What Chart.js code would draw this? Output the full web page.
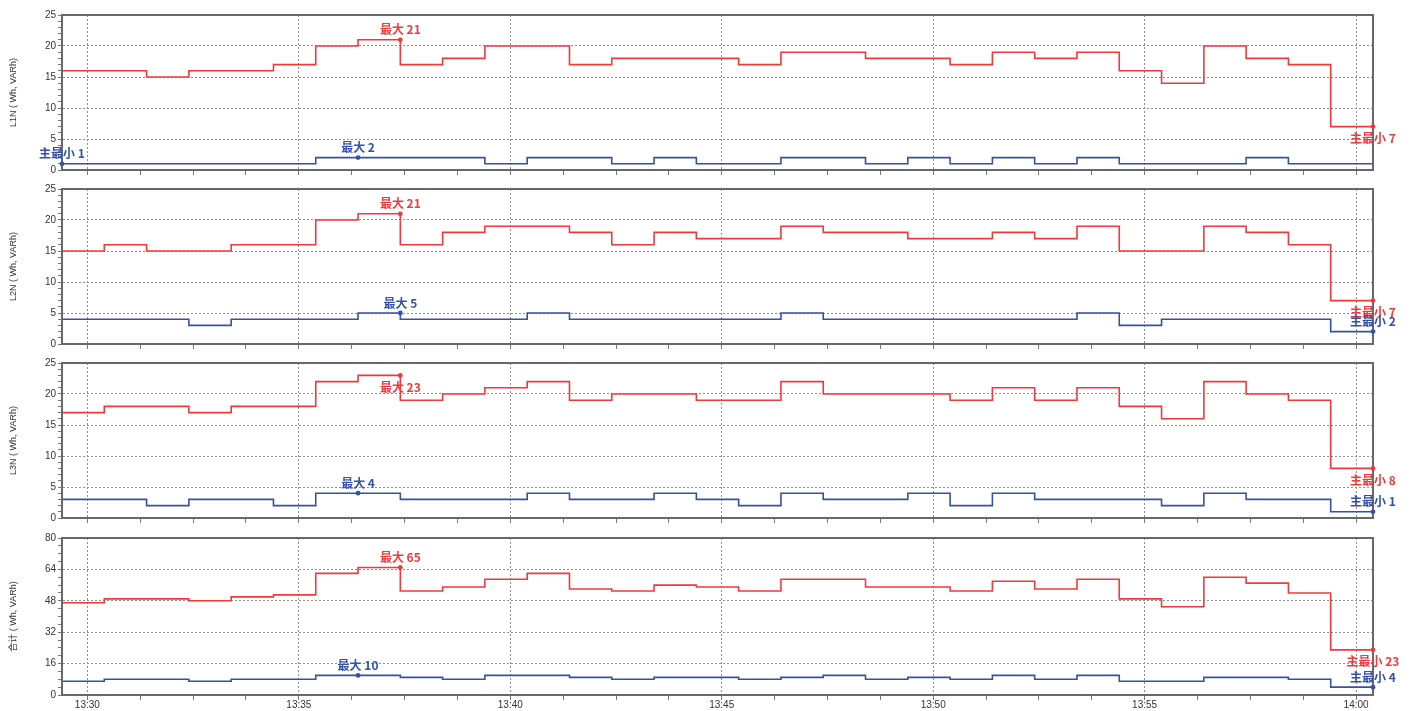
<!DOCTYPE html>
<html>
<head>
<meta charset="utf-8">
<script src="https://cdn.jsdelivr.net/npm/chart.js@4.4.1/dist/chart.umd.min.js"></script>
<style>
html,body{margin:0;padding:0;background:#fff;}
body{width:1417px;height:711px;position:relative;overflow:hidden;}
canvas{position:absolute;left:0;}
</style>
</head>
<body>
<canvas id="c1"></canvas>
<canvas id="c2"></canvas>
<canvas id="c3"></canvas>
<canvas id="c4"></canvas>
<script>
// ---- data ----
const times = ['13:29:24','13:30:24','13:31:24','13:32:24','13:33:24','13:34:24','13:35:24','13:36:24',
  '13:37:24','13:38:24','13:39:24','13:40:24','13:41:24','13:42:24','13:43:24','13:44:24',
  '13:45:24','13:46:24','13:47:24','13:48:24','13:49:24','13:50:24','13:51:24','13:52:24',
  '13:53:24','13:54:24','13:55:24','13:56:24','13:57:24','13:58:24','13:59:24','14:00:24'];

const l1Max = [14, 16,16,15,16,16,17,20,21,17,18, 20,20,17,18,18,18,17,19,19,18, 18,17,19,18,19,16,14,20,18,17, 7];
const l1Min = [1, 1,1,1,1,1,1,2,2,2,2, 1,2,2,1,2,1,1,2,2,1, 2,1,2,1,2,1,1,1,2,1, 1];

const l2Max = [14, 15,16,15,15,16,16,20,21,16,18, 19,19,18,16,18,17,17,19,18,18, 17,17,18,17,19,15,15,19,18,16, 7];
const l2Min = [3, 4,4,4,3,4,4,4,5,4,4, 4,5,4,4,4,4,4,5,4,4, 4,4,4,4,5,3,4,4,4,4, 2];

const l3Max = [17, 17,18,18,17,18,18,22,23,19,20, 21,22,19,20,20,19,19,22,20,20, 20,19,21,19,21,18,16,22,20,19, 8];
const l3Min = [2, 3,3,2,3,3,2,4,4,3,3, 3,4,3,3,4,3,2,4,3,3, 4,2,4,3,3,3,2,4,3,3, 1];

const totMax = [45, 47,49,49,48,50,51,62,65,53,55, 59,62,54,53,56,55,53,59,59,55, 55,53,58,54,59,49,45,60,57,52, 23];
const totMin = [7, 7,8,8,7,8,8,10,10,9,8, 10,10,9,8,9,9,8,9,10,8, 9,8,10,8,10,7,7,9,9,8, 4];

const xTickLabels = ['13:30','13:35','13:40','13:45','13:50','13:55','14:00'];
const yTicksPhase = [0,5,10,15,20,25];
const yTicksTotal = [0,16,32,48,64,80];
const axisTitles = ['L1N ( Wh, VARh)','L2N ( Wh, VARh)','L3N ( Wh, VARh)','合计 ( Wh, VARh)'];
const maxPrefix = '最大 ';
const minPrefix = '主最小 ';

// ---- helpers ----
function toMin(s){ const p = s.split(':').map(Number); return p[0]*60 + p[1] + (p[2]||0)/60; }
function fmt(v){ const h = Math.floor(v/60), m = Math.round(v - h*60); return h + ':' + String(m).padStart(2,'0'); }
const tVals = times.map(toMin);
const xMajor = xTickLabels.map(toMin);
const xAll = [];
for (let i=0;i<xMajor.length;i++){
  xAll.push({value:xMajor[i]});
  if (i<xMajor.length-1){
    const step = (xMajor[i+1]-xMajor[i])/4;
    for (let k=1;k<4;k++) xAll.push({value:xMajor[i]+k*step});
  }
}
function isMajorVal(list, v){ return list.some(m => Math.abs(m-v) < 1e-6); }

const RED = '#ef3a3c';
const BLUE = '#3451a8';
const GRID = '#8f8f8f';
const FRAME = '#686868';
const FONT = '"Liberation Sans", Arial, "Noto Sans CJK SC", sans-serif';
Chart.defaults.font.family = FONT;

const PLOT_RIGHT = 1373, Y_W = 62, PAD_TOP = 10, PLOT_H = 157;
const plotTops = [15, 189, 363, 538];

const panels = [
  {id:'c1', hi:l1Max, lo:l1Min, title:axisTitles[0], yTicks:yTicksPhase, minor:5, showX:false},
  {id:'c2', hi:l2Max, lo:l2Min, title:axisTitles[1], yTicks:yTicksPhase, minor:5, showX:false},
  {id:'c3', hi:l3Max, lo:l3Min, title:axisTitles[2], yTicks:yTicksPhase, minor:5, showX:false},
  {id:'c4', hi:totMax, lo:totMin, title:axisTitles[3], yTicks:yTicksTotal, minor:4, showX:true}
];

const framePlugin = {
  id:'frameAndMarks',
  afterDatasetsDraw(chart){
    const {ctx, chartArea:a} = chart;
    ctx.save();
    ctx.strokeStyle = FRAME; ctx.lineWidth = 2;
    ctx.strokeRect(a.left, a.top, a.right-a.left, a.bottom-a.top);
    ctx.restore();
  },
  afterDraw(chart){
    const {ctx, chartArea:a} = chart;
    const xs = chart.scales.x, ys = chart.scales.y;
    chart.data.datasets.forEach((ds, di) => {
      const vals = ds.data.map(p => p.y);
      const color = ds.borderColor;
      const mx = Math.max(...vals), mn = Math.min(...vals);
      const iMax = vals.indexOf(mx), iMin = vals.indexOf(mn);
      const marks = [
        {i:iMax, text:maxPrefix+mx, kind:'max'},
        {i:iMin, text:minPrefix+mn, kind:'min'}
      ];
      marks.forEach(m => {
        const px = xs.getPixelForValue(ds.data[m.i].x);
        const py = ys.getPixelForValue(ds.data[m.i].y);
        ctx.save();
        ctx.fillStyle = color;
        ctx.beginPath(); ctx.arc(px, py, 2.4, 0, Math.PI*2); ctx.fill();
        let below;
        if (m.kind==='max') below = (py - 20 < a.top);
        else below = (di === 0);
        const ty = below ? py + 12 : py - 10;
        ctx.font = 'bold 12px "Noto Sans CJK SC", sans-serif';
        ctx.textAlign = 'center'; ctx.textBaseline = 'middle';
        ctx.fillText(m.text, px, ty);
        ctx.restore();
      });
    });
  }
};

panels.forEach((p, idx) => {
  const axisH = p.showX ? 18 : 6;
  const cv = document.getElementById(p.id);
  cv.width = 1417; cv.height = PAD_TOP + PLOT_H + axisH;
  cv.style.width = '1417px'; cv.style.height = cv.height + 'px';
  cv.style.top = (plotTops[idx] - PAD_TOP) + 'px';
  const yMaxV = p.yTicks[p.yTicks.length-1];
  const yStep = (p.yTicks[1]-p.yTicks[0]) / p.minor;
  const yAll = [];
  for (let v = p.yTicks[0]; v <= yMaxV + 1e-9; v += yStep) yAll.push({value: Math.round(v*1000)/1000});
  const pts = arr => arr.map((v,i) => ({x:tVals[i], y:v}));
  new Chart(cv, {
    type:'line',
    data:{datasets:[
      {label:'最大', data:pts(p.hi), borderColor:RED, borderWidth:1.6, stepped:'after', pointRadius:0, fill:false},
      {label:'最小', data:pts(p.lo), borderColor:BLUE, borderWidth:1.6, stepped:'after', pointRadius:0, fill:false}
    ]},
    options:{
      responsive:false, animation:false, events:[],
      layout:{padding:{top:PAD_TOP, left:0, right:1417-PLOT_RIGHT, bottom:0}},
      plugins:{legend:{display:false}, tooltip:{enabled:false}},
      scales:{
        x:{
          type:'linear', position:'bottom', min:tVals[0], max:tVals[tVals.length-1],
          afterBuildTicks: s => { s.ticks = xAll.map(t => ({value:t.value})); },
          afterFit: s => { s.height = axisH; },
          ticks:{display:p.showX, autoSkip:false, maxRotation:0, minRotation:0, padding:-1,
            color:'#333', font:{size:10},
            callback: v => isMajorVal(xMajor, v) ? fmt(v) : ''},
          grid:{color: c => (c.tick && isMajorVal(xMajor, c.tick.value)) ? GRID : 'rgba(0,0,0,0)',
            tickColor:'#777', tickLength:5, lineWidth:1, tickWidth:1},
          border:{display:true, color:FRAME, width:2, dash:[2,2]}
        },
        y:{
          type:'linear', position:'left', min:p.yTicks[0], max:yMaxV,
          afterBuildTicks: s => { s.ticks = yAll.map(t => ({value:t.value})); },
          afterFit: s => { s.width = Y_W; },
          ticks:{autoSkip:false, padding:2, color:'#333', font:{size:10},
            callback: v => isMajorVal(p.yTicks, v) ? String(v) : ''},
          grid:{color: c => (c.tick && isMajorVal(p.yTicks, c.tick.value)) ? GRID : 'rgba(0,0,0,0)',
            tickColor:'#777', tickLength:4, lineWidth:1, tickWidth:1},
          border:{display:true, color:FRAME, width:2, dash:[2,2]},
          title:{display:true, text:p.title, color:'#333', font:{size:9}, padding:{top:8, bottom:0}}
        }
      }
    },
    plugins:[framePlugin]
  });
});
</script>
</body>
</html>
